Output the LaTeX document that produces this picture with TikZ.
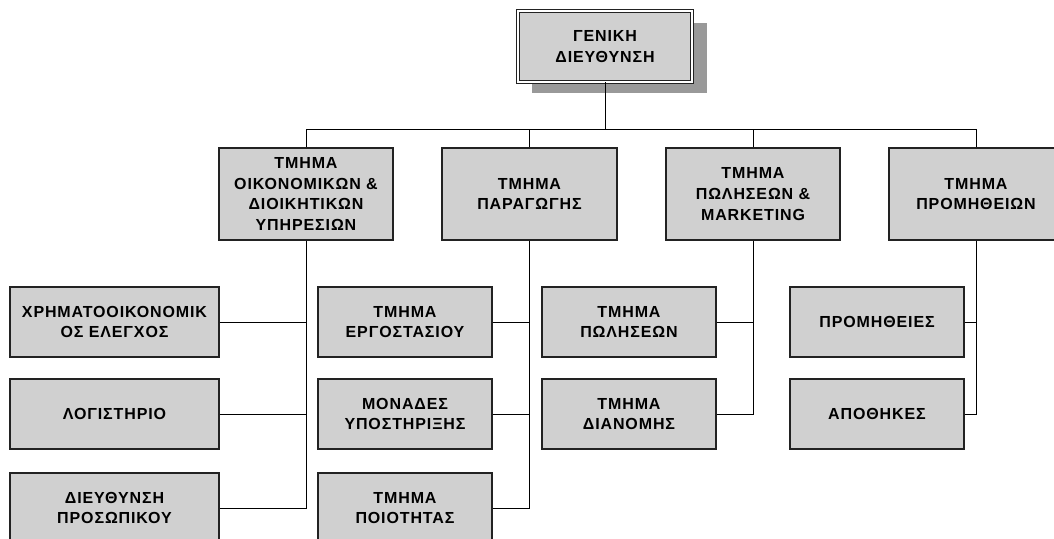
\documentclass[tikz,border=0pt]{standalone}
\usepackage{fontspec}
\setmainfont{Liberation Sans}[LetterSpace=5.5]
\definecolor{boxfill}{HTML}{D0D0D0}
\definecolor{shadowgray}{HTML}{999999}
\definecolor{boxline}{HTML}{222222}
\begin{document}
\begin{tikzpicture}[x=1pt,y=-1pt,
  org/.style={draw=boxline,line width=1.1pt,fill=boxfill,inner sep=0pt,
    align=center,font=\fontsize{16}{20.8}\selectfont\bfseries,
    minimum height=70pt},
  lvl/.style={org,minimum width=174pt,minimum height=92pt},
  sub/.style={org,minimum width=174pt},
  conn/.style={draw=black,line width=1pt}]
\useasboundingbox (0,0) rectangle (1054,538);
\clip (0,0) rectangle (1054,538);
% top
\fill[shadowgray] (532,23) rectangle (707,93);
\node[org,minimum width=173.6pt,minimum height=70.6pt,double=white,
  double distance=2.4pt,line width=0.9pt] (t) at (605,46.5)
  {ΓΕΝΙΚΗ\\ΔΙΕΥΘΥΝΣΗ};
% level 1
\node[lvl] (a1) at (306,194) {ΤΜΗΜΑ\\ΟΙΚΟΝΟΜΙΚΩΝ \&\\ΔΙΟΙΚΗΤΙΚΩΝ\\ΥΠΗΡΕΣΙΩΝ};
\node[lvl,minimum width=175pt] (a2) at (529.5,194) {ΤΜΗΜΑ\\ΠΑΡΑΓΩΓΗΣ};
\node[lvl] (a3) at (753,194) {ΤΜΗΜΑ\\ΠΩΛΗΣΕΩΝ \&\\MARKETING};
\node[lvl] (a4) at (976,194) {ΤΜΗΜΑ\\ΠΡΟΜΗΘΕΙΩΝ};
% level 2
\node[sub,minimum width=209pt] (c11) at (114.5,322) {ΧΡΗΜΑΤΟΟΙΚΟΝΟΜΙΚ\\ΟΣ ΕΛΕΓΧΟΣ};
\node[sub,minimum width=209pt] (c12) at (114.5,414) {ΛΟΓΙΣΤΗΡΙΟ};
\node[sub,minimum width=209pt] (c13) at (114.5,508) {ΔΙΕΥΘΥΝΣΗ\\ΠΡΟΣΩΠΙΚΟΥ};
\node[sub] (c21) at (405,322) {ΤΜΗΜΑ\\ΕΡΓΟΣΤΑΣΙΟΥ};
\node[sub] (c22) at (405,414) {ΜΟΝΑΔΕΣ\\ΥΠΟΣΤΗΡΙΞΗΣ};
\node[sub] (c23) at (405,508) {ΤΜΗΜΑ\\ΠΟΙΟΤΗΤΑΣ};
\node[sub] (c31) at (629,322) {ΤΜΗΜΑ\\ΠΩΛΗΣΕΩΝ};
\node[sub] (c32) at (629,414) {ΤΜΗΜΑ\\ΔΙΑΝΟΜΗΣ};
\node[sub] (c41) at (877,322) {ΠΡΟΜΗΘΕΙΕΣ};
\node[sub] (c42) at (877,414) {ΑΠΟΘΗΚΕΣ};
% connectors
\coordinate (busL) at (306,129);
\coordinate (busR) at (976,129);
\draw[conn] (busL) -- (busR);
\draw[conn] (t.south) -- (t.south |- busL);
\draw[conn] (a1.north) -- (a1.north |- busL);
\draw[conn] (a2.north) -- (a2.north |- busL);
\draw[conn] (a3.north) -- (a3.north |- busL);
\draw[conn] (a4.north) -- (a4.north |- busL);
\draw[conn] (a1.south) |- (c13.east);
\draw[conn] (c11.east) -- (c11.east -| a1.south);
\draw[conn] (c12.east) -- (c12.east -| a1.south);
\draw[conn] (a2.south) |- (c23.east);
\draw[conn] (c21.east) -- (c21.east -| a2.south);
\draw[conn] (c22.east) -- (c22.east -| a2.south);
\draw[conn] (a3.south) |- (c32.east);
\draw[conn] (c31.east) -- (c31.east -| a3.south);
\draw[conn] (a4.south) |- (c42.east);
\draw[conn] (c41.east) -- (c41.east -| a4.south);
\end{tikzpicture}
\end{document}
